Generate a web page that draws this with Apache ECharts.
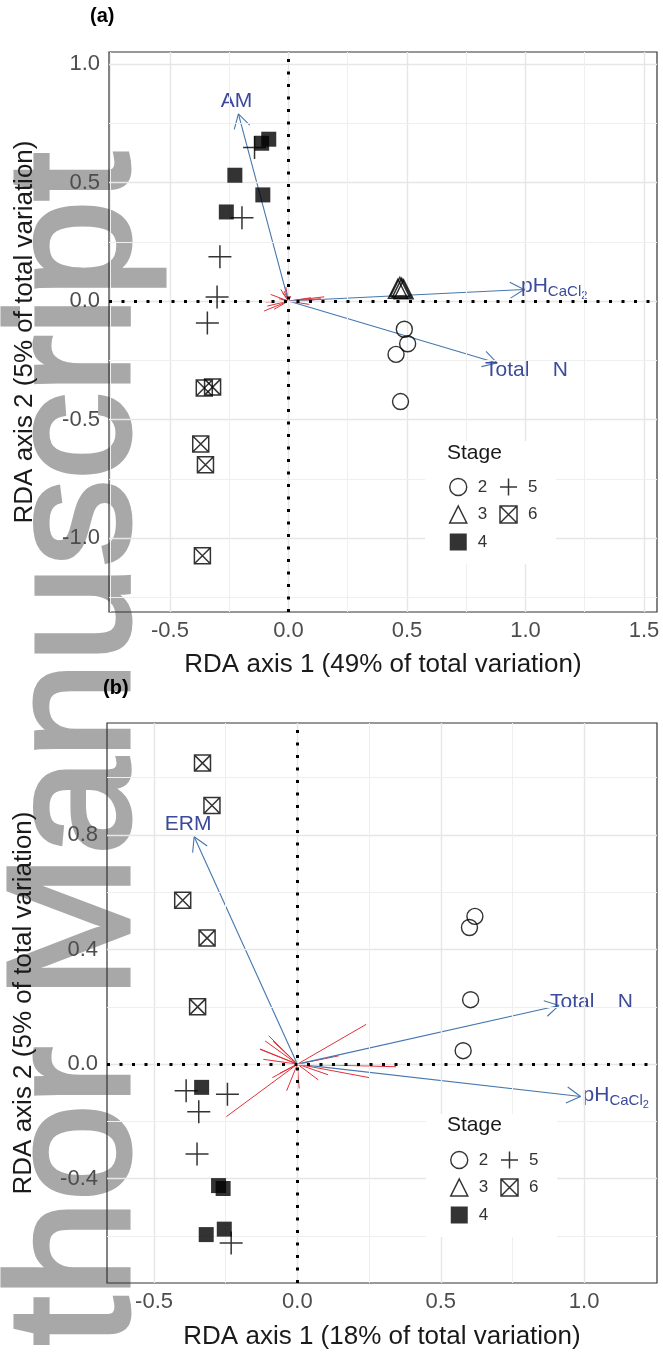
<!DOCTYPE html>
<html><head><meta charset="utf-8">
<script src="https://cdn.jsdelivr.net/npm/echarts@6/dist/echarts.min.js"></script>
<style>html,body{margin:0;padding:0;background:#fff}#c{width:663px;height:1354px}</style>
</head><body><div id="c"></div>
<script>
// ---------- Panel (a) data ----------
const a_stage2 = [[0.489,-0.119],[0.503,-0.180],[0.454,-0.225],[0.473,-0.424]];
const a_stage3 = [[0.462,0.052],[0.470,0.060],[0.478,0.056],[0.486,0.050]];
const a_stage4 = [[-0.113,0.666],[-0.083,0.683],[-0.226,0.531],[-0.108,0.448],[-0.262,0.376]];
const a_stage5 = [[-0.143,0.648],[-0.196,0.352],[-0.289,0.187],[-0.301,0.017],[-0.342,-0.092]];
const a_stage6 = [[-0.355,-0.367],[-0.320,-0.363],[-0.370,-0.603],[-0.350,-0.691],[-0.363,-1.075]];
const a_envNames = ['AM','pH','TotalN'];
const a_envTips = [[-0.211,0.790],[0.994,0.049],[0.880,-0.261]];
const a_speciesTips = [[-0.103,-0.042],[0.151,0.018],[-0.075,0.028],[-0.032,0.049],[0.095,0.014],
  [-0.089,-0.021],[-0.096,-0.004],[0.088,-0.014],[-0.018,0.042],[-0.061,-0.035],[0.109,0.000],
  [-0.040,0.010],[0.137,0.010],[-0.025,0.035],[0.010,0.021],[-0.011,0.060]];
const a_xTicks = [-0.5,0.0,0.5,1.0,1.5];
const a_yTicks = [-1.0,-0.5,0.0,0.5,1.0];
const a_xMinor = [-0.75,-0.25,0.25,0.75,1.25];
const a_yMinor = [-1.25,-0.75,-0.25,0.25,0.75];
const a_xTitle = 'RDA axis 1 (49% of total variation)';
const a_yTitle = 'RDA axis 2 (5% of total variation)';

// ---------- Panel (b) data ----------
const b_stage2 = [[0.619,0.516],[0.600,0.477],[0.604,0.225],[0.578,0.047]];
const b_stage3 = [];
const b_stage4 = [[-0.334,-0.081],[-0.275,-0.424],[-0.259,-0.434],[-0.318,-0.595],[-0.255,-0.576]];
const b_stage5 = [[-0.388,-0.093],[-0.244,-0.105],[-0.344,-0.166],[-0.350,-0.314],[-0.231,-0.624]];
const b_stage6 = [[-0.331,1.051],[-0.298,0.903],[-0.400,0.572],[-0.315,0.440],[-0.348,0.200]];
const b_envNames = ['ERM','TotalN','pH'];
const b_envTips = [[-0.360,0.794],[0.9125,0.205],[0.9875,-0.113]];
const b_speciesTips = [[0.240,0.139],[-0.2475,-0.183],[0.344,-0.009],[0.250,-0.047],[-0.0375,-0.093],
  [0.006,-0.085],[-0.131,0.052],[-0.1125,0.081],[-0.100,0.099],[-0.119,0.017],[-0.0875,-0.047],
  [0.144,0.029],[-0.130,0.053],[0.073,-0.055],[0.107,-0.037],[-0.062,-0.032],[-0.085,0.080]];
const b_xTicks = [-0.5,0.0,0.5,1.0];
const b_yTicks = [-0.4,0.0,0.4,0.8];
const b_xMinor = [-0.25,0.25,0.75];
const b_yMinor = [-0.6,-0.2,0.2,0.6,1.0];
const b_xTitle = 'RDA axis 1 (18% of total variation)';
const b_yTitle = 'RDA axis 2 (5% of total variation)';

const stageNames = ['2','3','4','5','6'];
const legendOrder = ['2','5','3','6','4'];

// ---------- styles ----------
const FONT = "'Liberation Sans', Arial, sans-serif";
const envLabelColor = '#3b4a9a';
const envLineColor = '#4577ae';
const speciesColor = '#e2303a';
const symbolStyles = {
  '2': {symbol:'circle', size:16, itemStyle:{color:'rgba(0,0,0,0)', borderColor:'#000', borderWidth:1.4}},
  '3': {symbol:'triangle', size:19, itemStyle:{color:'rgba(0,0,0,0)', borderColor:'#000', borderWidth:1.5}},
  '4': {symbol:'rect', size:15, itemStyle:{color:'#000', borderWidth:0}},
  '5': {symbol:'path://M0,-10L0,10M-10,0L10,0', size:23, itemStyle:{color:'rgba(0,0,0,0)', borderColor:'#000', borderWidth:1.5}},
  '6': {symbol:'path://M0,0L10,0L10,10L0,10ZM0,0L10,10M10,0L0,10', size:16, itemStyle:{color:'rgba(0,0,0,0)', borderColor:'#000', borderWidth:1.5}}
};
const labelTexts = {
  AM: 'AM', ERM: 'ERM', TotalN: 'Total    N', pH: '{m|pH}{s|CaCl}{t|2}'
};
// pixel offsets of labels relative to arrow tips
const labelPlacement = {
  a: {AM:{dx:-2,dy:-13,align:'center'}, pH:{dx:-3,dy:-3,align:'left'}, TotalN:{dx:-12,dy:7,align:'left'}},
  b: {ERM:{dx:-6,dy:-13,align:'center'}, TotalN:{dx:-9,dy:-3,align:'left'}, pH:{dx:2,dy:-1,align:'left'}}
};
const richStyles = {
  m:{fontSize:21, lineHeight:30, fontFamily:FONT, color:envLabelColor},
  s:{fontSize:15, lineHeight:15, verticalAlign:'bottom', fontFamily:FONT, color:envLabelColor, padding:[0,0,2,0]},
  t:{fontSize:11, lineHeight:11, verticalAlign:'bottom', fontFamily:FONT, color:envLabelColor}
};

function fmt(v){ return (Math.abs(v) < 1e-9 ? 0 : v).toFixed(1); }

function stageSeries(g, datasets){
  return stageNames.map((s, i) => ({
    type:'scatter', name:s, xAxisIndex:g, yAxisIndex:g, z:5, silent:true,
    symbol:symbolStyles[s].symbol, symbolSize:symbolStyles[s].size,
    itemStyle:symbolStyles[s].itemStyle, emphasis:{disabled:true},
    data: datasets[i]
  }));
}

function segmentSeries(g, tips, opts){
  return {
    type:'custom', xAxisIndex:g, yAxisIndex:g, z:opts.z, silent:true, clip:false,
    data: tips,
    renderItem: function(params, api){
      const o = api.coord([0,0]);
      const t = api.coord([api.value(0), api.value(1)]);
      const st = {stroke:opts.color, lineWidth:opts.width, fill:null};
      const ch = [{type:'line', shape:{x1:o[0],y1:o[1],x2:t[0],y2:t[1]}, style:st}];
      if (opts.head){
        const ang = Math.atan2(o[1]-t[1], o[0]-t[0]);
        [-1,1].forEach(sg => {
          const a = ang + sg*Math.PI/6;
          ch.push({type:'line', shape:{x1:t[0],y1:t[1],x2:t[0]+opts.head*Math.cos(a),y2:t[1]+opts.head*Math.sin(a)}, style:st});
        });
      }
      if (opts.names){
        const nm = opts.names[params.dataIndex];
        const P = opts.place[nm];
        ch.push({type:'text', x:t[0]+P.dx, y:t[1]+P.dy, style:{
          text: labelTexts[nm], rich: richStyles, fill: envLabelColor,
          font: '21px ' + FONT, fontSize:21, fontFamily:FONT,
          align:P.align, textAlign:P.align, verticalAlign:'middle', textVerticalAlign:'middle'
        }});
      }
      return {type:'group', children:ch};
    }
  };
}

function gridLineSeries(g, xMaj, yMaj, xMin, yMin){
  const mk = (arr, key) => arr.map(v => ({[key]: v}));
  return [
    {type:'scatter', xAxisIndex:g, yAxisIndex:g, data:[], z:1, silent:true,
     markLine:{silent:true, symbol:'none', label:{show:false}, animation:false,
       lineStyle:{color:'#e6e6e6', width:1.4, type:'solid'},
       data: mk(xMaj,'xAxis').concat(mk(yMaj,'yAxis'))}},
    {type:'scatter', xAxisIndex:g, yAxisIndex:g, data:[], z:1, silent:true,
     markLine:{silent:true, symbol:'none', label:{show:false}, animation:false,
       lineStyle:{color:'#efefef', width:1, type:'solid'},
       data: mk(xMin,'xAxis').concat(mk(yMin,'yAxis'))}},
    {type:'scatter', xAxisIndex:g, yAxisIndex:g, data:[], z:2, silent:true,
     markLine:{silent:true, symbol:'none', label:{show:false}, animation:false,
       lineStyle:{color:'#000', width:3, type:[3,9.5], cap:'butt'},
       data: [{xAxis:0},{yAxis:0}]}}
  ];
}

function xAxisCfg(g, min, max, ticks, title, gap){
  return {gridIndex:g, type:'value', min:min, max:max, splitLine:{show:false},
    axisLine:{show:false},
    axisTick:{show:true, customValues:ticks, length:5, lineStyle:{color:'#333', width:1}},
    axisLabel:{customValues:ticks, formatter:fmt, fontSize:22, fontFamily:FONT, color:'#4d4d4d', margin:8},
    name:title, nameLocation:'middle', nameGap:gap,
    nameTextStyle:{fontSize:26, fontFamily:FONT, color:'#1a1a1a'}};
}
function yAxisCfg(g, min, max, ticks, title, gap){
  return {gridIndex:g, type:'value', min:min, max:max, splitLine:{show:false},
    axisLine:{show:false},
    axisTick:{show:true, customValues:ticks, length:5, lineStyle:{color:'#333', width:1}},
    axisLabel:{customValues:ticks, formatter:fmt, fontSize:22, fontFamily:FONT, color:'#4d4d4d', margin:9},
    name:title, nameLocation:'middle', nameGap:gap,
    nameTextStyle:{fontSize:26, fontFamily:FONT, color:'#1a1a1a'}};
}

const legendIconData = legendOrder.map(n => ({
  name:n, icon:symbolStyles[n].symbol, itemStyle:symbolStyles[n].itemStyle
}));
function legendCfg(left, top){
  return {data:legendIconData, left:left, top:top, width:100, orient:'horizontal',
    itemWidth:17, itemHeight:17, itemGap:3.5, padding:[34,10,10,24],
    backgroundColor:'#fff', selectedMode:false, z:8,
    textStyle:{fontSize:17, fontFamily:FONT, color:'#333', width:18, lineHeight:24, padding:[0,0,0,6]}};
}

const chart = echarts.init(document.getElementById('c'), null, {renderer:'canvas'});
chart.setOption({
  animation:false,
  backgroundColor:'#fff',
  graphic:[{type:'text', x:167, y:1345, rotation:Math.PI/2, z:-10, silent:true,
    style:{text:'thor Manuscript', font:'173px ' + FONT, fill:'#a8a8a8', stroke:'#a8a8a8', lineWidth:5,
      textAlign:'left', textVerticalAlign:'bottom', align:'left', verticalAlign:'bottom'}}],
  title:[
    {text:'(a)', left:90, top:6, padding:0, textStyle:{fontSize:20, fontWeight:'bold', fontFamily:FONT, color:'#000'}},
    {text:'(b)', left:103, top:678, padding:0, textStyle:{fontSize:20, fontWeight:'bold', fontFamily:FONT, color:'#000'}},
    {text:'Stage', left:447, top:443, padding:0, z:10, textStyle:{fontSize:21, fontWeight:'normal', fontFamily:FONT, color:'#1a1a1a'}},
    {text:'Stage', left:447, top:1115, padding:0, z:10, textStyle:{fontSize:21, fontWeight:'normal', fontFamily:FONT, color:'#1a1a1a'}}
  ],
  legend:[legendCfg(425, 441), legendCfg(426, 1114)],
  grid:[
    {left:109, top:52, width:548, height:560, show:true, borderColor:'#333', borderWidth:1.2, backgroundColor:'transparent', z:3},
    {left:107, top:723, width:550, height:560, show:true, borderColor:'#333', borderWidth:1.2, backgroundColor:'transparent', z:3}
  ],
  xAxis:[xAxisCfg(0, -0.757, 1.555, a_xTicks, a_xTitle, 40), xAxisCfg(1, -0.664, 1.254, b_xTicks, b_xTitle, 41)],
  yAxis:[yAxisCfg(0, -1.312, 1.051, a_yTicks, a_yTitle, 71), yAxisCfg(1, -0.764, 1.191, b_yTicks, b_yTitle, 70)],
  series: [].concat(
    gridLineSeries(0, a_xTicks, a_yTicks, a_xMinor, a_yMinor),
    gridLineSeries(1, b_xTicks, b_yTicks, b_xMinor, b_yMinor),
    [segmentSeries(0, a_speciesTips, {color:speciesColor, width:1, z:3}),
     segmentSeries(1, b_speciesTips, {color:speciesColor, width:1, z:3}),
     segmentSeries(0, a_envTips, {color:envLineColor, width:1.1, head:16, z:4, names:a_envNames, place:labelPlacement.a}),
     segmentSeries(1, b_envTips, {color:envLineColor, width:1.1, head:16, z:4, names:b_envNames, place:labelPlacement.b})],
    stageSeries(0, [a_stage2, a_stage3, a_stage4, a_stage5, a_stage6]),
    stageSeries(1, [b_stage2, b_stage3, b_stage4, b_stage5, b_stage6])
  )
});
</script></body></html>
